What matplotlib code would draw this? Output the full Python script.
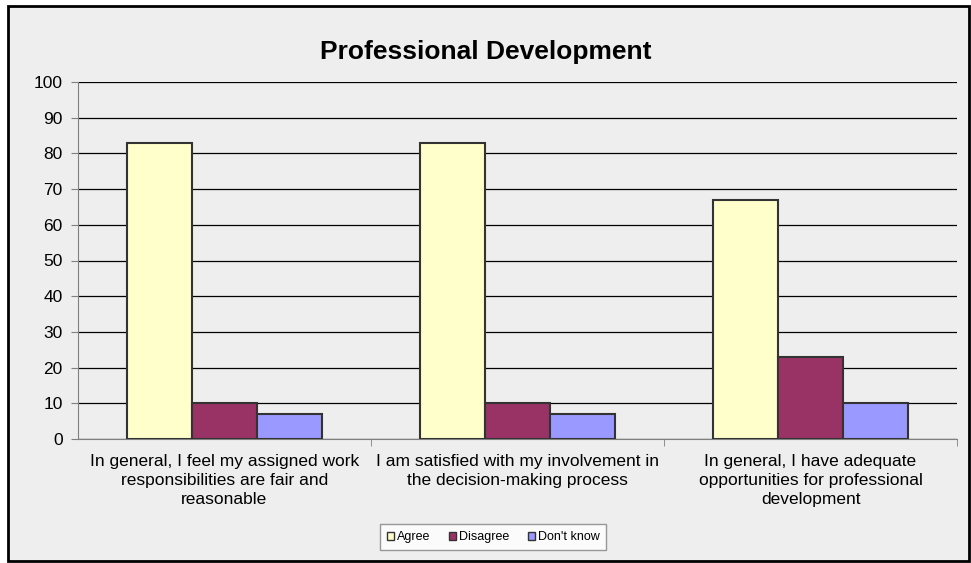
import numpy as np
import matplotlib
matplotlib.use("Agg")
import matplotlib.pyplot as plt
from matplotlib.patches import Rectangle, Patch

plt.rcParams['font.family'] = ['Liberation Sans', 'DejaVu Sans']

# data
categories = [
    "In general, I feel my assigned work\nresponsibilities are fair and\nreasonable",
    "I am satisfied with my involvement in\nthe decision-making process",
    "In general, I have adequate\nopportunities for professional\ndevelopment",
]
series_names = ["Agree", "Disagree", "Don't know"]
agree = [83, 83, 67]
disagree = [10, 10, 23]
dont_know = [7, 7, 10]
colors = ["#FFFFCC", "#993366", "#9999FF"]

fig = plt.figure(figsize=(9.71, 5.63), dpi=100)
fig.patch.set_facecolor("white")
# outer chart frame
fig.patches.append(Rectangle((7.5 / 971, 2.5 / 563), 961 / 971, 555 / 563,
                             transform=fig.transFigure, facecolor="#EEEEEE",
                             edgecolor="black", linewidth=2, zorder=-5))

ax = fig.add_axes([78 / 971, 124 / 563, 879 / 971, 357 / 563])
ax.set_facecolor("none")
ax.set_zorder(2)

x = np.arange(len(categories))
w = 0.222
for k, (vals, c) in enumerate(zip([agree, disagree, dont_know], colors)):
    ax.bar(x + (k - 1) * w, vals, width=w, color=c, edgecolor="#333333",
           linewidth=1.5, zorder=3)

ax.set_ylim(0, 100)
ax.set_xlim(-0.5, 2.5)
ax.set_yticks(np.arange(0, 101, 10))
ax.yaxis.grid(True, color="black", linewidth=0.9, zorder=1)
ax.set_axisbelow(True)
for s in ["top", "right"]:
    ax.spines[s].set_visible(False)
ax.spines["left"].set_color("#808080")
ax.spines["bottom"].set_color("#808080")
ax.tick_params(axis="y", length=5, color="#808080", labelsize=12.5, pad=6)
ax.set_xticks(x)
ax.set_xticklabels(categories, fontsize=12.5, linespacing=1.33)
ax.tick_params(axis="x", which="major", length=0, pad=11)
ax.set_xticks([0.5, 1.5, 2.5], minor=True)
ax.tick_params(axis="x", which="minor", length=5, color="#808080")

fig.text(0.5, 0.907, "Professional Development", ha="center", va="center",
         fontsize=19, fontweight="bold")

handles = [Patch(facecolor=c, edgecolor="#333333", linewidth=1) for c in colors]
leg = fig.legend(handles, series_names, loc="center", bbox_to_anchor=(493 / 971, 26 / 563),
                 ncol=3, fontsize=9, frameon=True, fancybox=False,
                 edgecolor="#808080", handlelength=0.6, handleheight=0.6,
                 handletextpad=0.2, columnspacing=1.5, borderpad=0.55)
leg.get_frame().set_linewidth(1)

fig.savefig("out.png", dpi=100)
